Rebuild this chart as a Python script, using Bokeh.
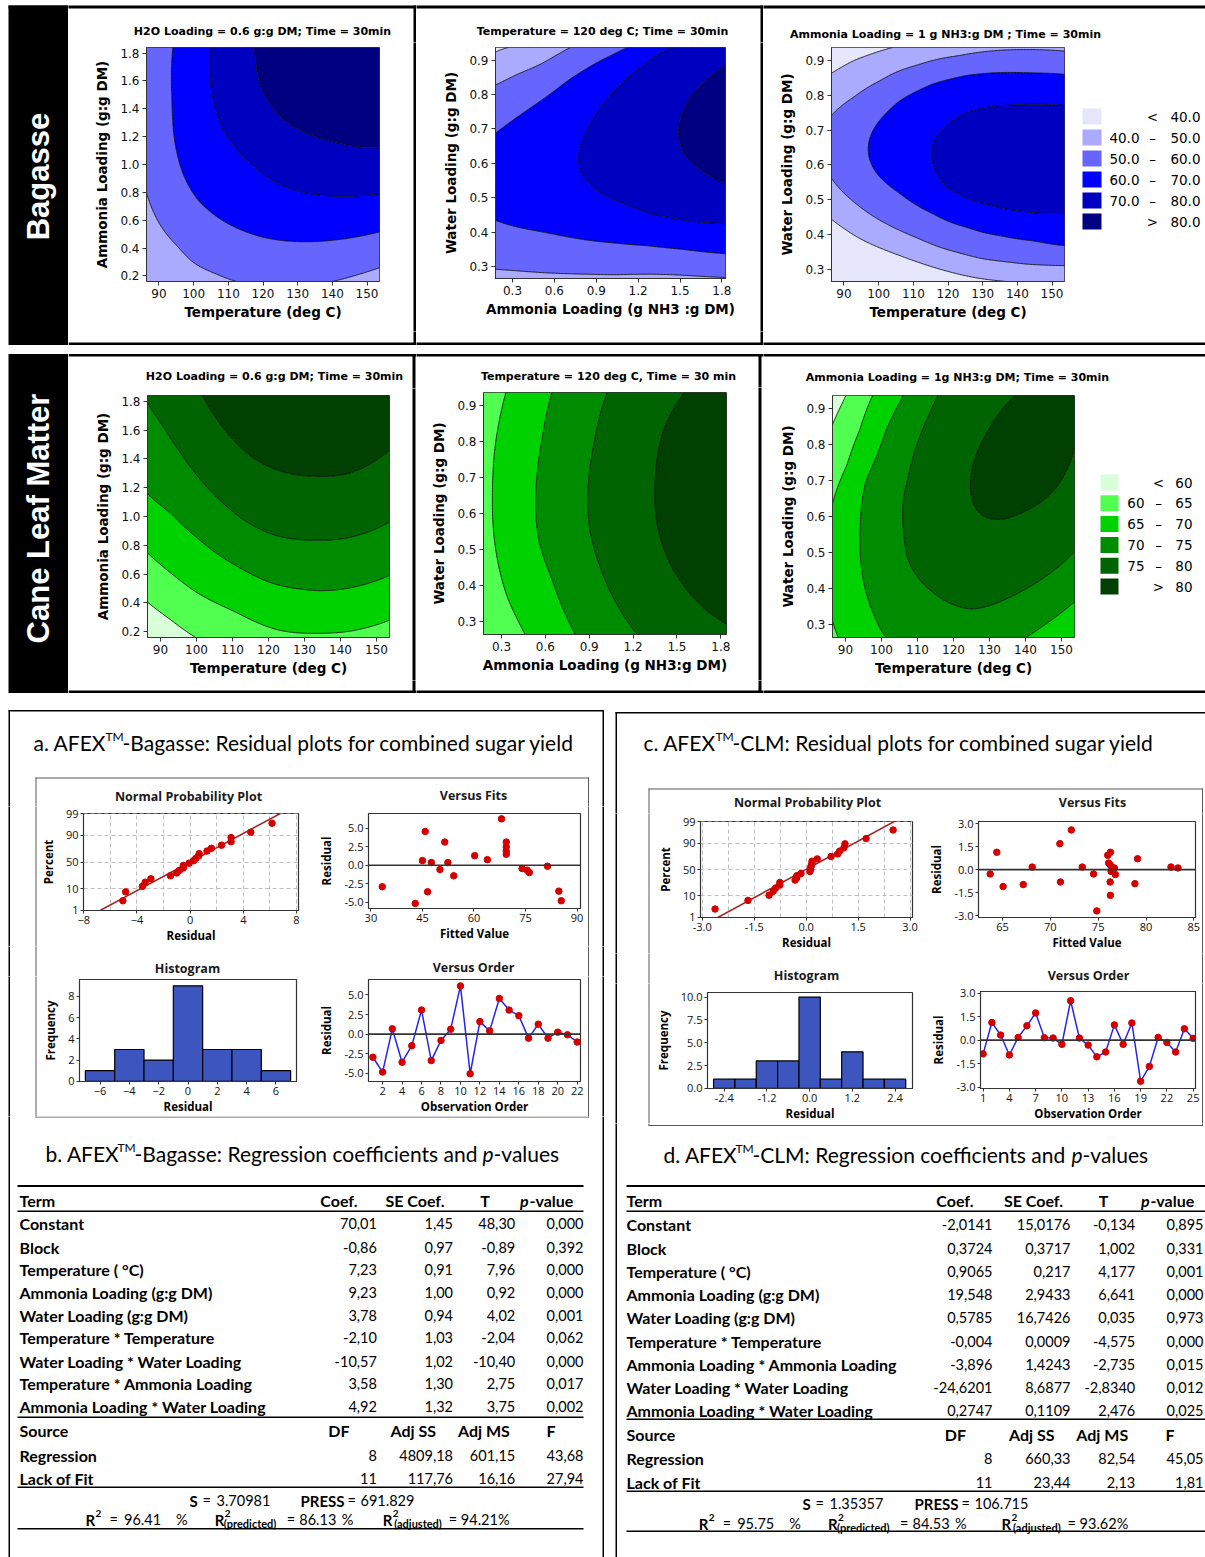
import math
from collections import defaultdict
import numpy as np
from bokeh.plotting import figure
from bokeh.layouts import row, column
from bokeh.models import Range1d, FixedTicker, NumeralTickFormatter, Span
from bokeh.core.properties import value
from bokeh.embed import file_html
from bokeh.resources import INLINE

# ============================ DATA ============================
# ---- response-surface contour plots ----
bag_levels = [40, 50, 60, 70, 80]
bag_colors = ["#E6E6FA", "#AAAAFF", "#6666FF", "#0000FF", "#0000C0", "#000080"]
clm_levels = [60, 65, 70, 75, 80]
clm_colors = ["#D9FFD9", "#50FF50", "#00D200", "#008C00", "#006400", "#004000"]

temp_range = [86.4, 153.6]
nh3_range = [0.16, 1.84]
nh3_range_bag = [0.178, 1.826]
nh3_range_clm = [0.177, 1.839]
water_range = [0.265, 0.937]

temp_ticks = [90, 100, 110, 120, 130, 140, 150]
nh3_ticks = [0.2, 0.4, 0.6, 0.8, 1.0, 1.2, 1.4, 1.6, 1.8]
nh3_ticks2 = [0.3, 0.6, 0.9, 1.2, 1.5, 1.8]
water_ticks = [0.3, 0.4, 0.5, 0.6, 0.7, 0.8, 0.9]

# points read along the contour lines of each panel: (x, y, level)
# (a few corner points carry the band value)
bag_temp_nh3 = [
    (86.6, 0.78, 50), (90.7, 0.553, 50), (95.5, 0.41, 50), (100.3, 0.29, 50), (106.1, 0.219, 50),
    (111.8, 0.164, 50), (140.7, 0.164, 50), (153.75, 0.26, 50),
    (94.0, 1.84, 60), (93.75, 1.46, 60), (94.5, 1.173, 60), (96.9, 0.935, 60), (101.25, 0.744, 60),
    (108.9, 0.589, 60), (119.5, 0.481, 60), (131.1, 0.446, 60), (140.7, 0.458, 60), (153.75, 0.517, 60),
    (104.8, 1.84, 70), (104.9, 1.578, 70), (107.0, 1.34, 70), (111.8, 1.125, 70), (117.6, 0.982, 70),
    (124.3, 0.863, 70), (131.1, 0.803, 70), (140.7, 0.772, 70), (153.75, 0.791, 70),
    (117.6, 1.84, 80), (118.6, 1.626, 80), (121.4, 1.459, 80), (126.25, 1.316, 80), (133.0, 1.22, 80),
    (140.7, 1.161, 80), (148.4, 1.125, 80), (153.75, 1.12, 80),
    (86.4, 0.16, 44),
]
bag_nh3_water = [
    (0.178, 0.92, 40), (0.298, 0.94, 40), (0.178, 0.937, 39.3),
    (0.178, 0.828, 50), (0.321, 0.857, 50), (0.513, 0.891, 50), (0.704, 0.935, 50),
    (0.178, 0.292, 50), (0.560, 0.281, 50), (1.038, 0.276, 50), (1.826, 0.268, 50),
    (0.178, 0.688, 60), (0.321, 0.731, 60), (0.513, 0.785, 60), (0.704, 0.843, 60), (0.895, 0.891, 60),
    (1.134, 0.94, 60),
    (0.178, 0.434, 60), (0.321, 0.416, 60), (0.560, 0.397, 60), (0.799, 0.379, 60), (1.038, 0.368, 60),
    (1.277, 0.36, 60), (1.516, 0.35, 60), (1.826, 0.337, 60),
    (0.775, 0.61, 70), (0.847, 0.707, 70), (0.990, 0.794, 70), (1.157, 0.862, 70), (1.348, 0.92, 70),
    (1.468, 0.94, 70), (0.895, 0.523, 70), (1.086, 0.484, 70), (1.325, 0.45, 70), (1.587, 0.431, 70),
    (1.826, 0.424, 70),
    (1.492, 0.678, 80), (1.540, 0.765, 80), (1.659, 0.833, 80), (1.826, 0.886, 80), (1.563, 0.61, 80),
    (1.683, 0.571, 80), (1.826, 0.542, 80),
]
bag_temp_water = [
    (86.85, 0.866, 40), (92.9, 0.9, 40), (99.55, 0.924, 40), (104.3, 0.938, 40),
    (86.85, 0.44, 40), (94.8, 0.387, 40), (106.2, 0.339, 40), (115.8, 0.306, 40), (127.3, 0.277, 40),
    (136.8, 0.265, 40),
    (86.85, 0.747, 50), (92.9, 0.795, 50), (100.5, 0.842, 50), (111.0, 0.886, 50), (123.4, 0.914, 50),
    (134.9, 0.929, 50), (144.5, 0.931, 50), (153.5, 0.927, 50),
    (86.85, 0.555, 50), (94.8, 0.478, 50), (106.2, 0.411, 50), (117.7, 0.363, 50), (130.1, 0.33, 50),
    (142.5, 0.315, 50), (153.5, 0.311, 50),
    (97.0, 0.651, 60), (99.55, 0.718, 60), (106.2, 0.785, 60), (115.8, 0.833, 60), (125.35, 0.857, 60),
    (134.9, 0.865, 60), (144.5, 0.864, 60), (153.5, 0.86, 60), (99.55, 0.574, 60), (106.2, 0.517, 60),
    (115.8, 0.459, 60), (125.35, 0.421, 60), (134.9, 0.397, 60), (144.5, 0.382, 60), (153.5, 0.368, 60),
    (115.5, 0.622, 70), (119.6, 0.713, 70), (127.3, 0.756, 70), (136.8, 0.771, 70), (146.4, 0.774, 70),
    (153.5, 0.771, 70), (119.6, 0.536, 70), (127.3, 0.497, 70), (136.8, 0.473, 70), (146.4, 0.461, 70),
    (153.5, 0.461, 70),
]
clm_temp_nh3 = [
    (86.8, 0.397, 60), (92.3, 0.293, 60), (99.7, 0.161, 60),
    (86.8, 0.737, 65), (99.7, 0.478, 65), (110.7, 0.339, 65), (122.7, 0.212, 65), (133.7, 0.189, 65),
    (142.9, 0.205, 65), (153.75, 0.281, 65),
    (86.8, 1.148, 70), (92.3, 1.033, 70), (101.5, 0.824, 70), (110.7, 0.663, 70), (119.9, 0.547, 70),
    (129.1, 0.496, 70), (133.7, 0.485, 70), (142.9, 0.506, 70), (153.75, 0.593, 70),
    (86.8, 1.772, 75), (90.5, 1.634, 75), (96.0, 1.426, 75), (103.3, 1.194, 75), (112.5, 0.986, 75),
    (121.7, 0.871, 75), (132.8, 0.836, 75), (142.0, 0.852, 75), (153.75, 0.963, 75),
    (101.5, 1.842, 80), (106.1, 1.657, 80), (113.5, 1.449, 80), (122.7, 1.321, 80), (132.8, 1.28, 80),
    (142.0, 1.298, 80), (153.75, 1.46, 80),
]
clm_nh3_water = [
    (0.330, 0.937, 65), (0.257, 0.789, 65), (0.238, 0.65, 65), (0.257, 0.511, 65), (0.337, 0.372, 65),
    (0.462, 0.265, 65),
    (0.645, 0.937, 70), (0.577, 0.807, 70), (0.536, 0.669, 70), (0.554, 0.53, 70), (0.645, 0.419, 70),
    (0.805, 0.265, 70),
    (1.023, 0.937, 75), (0.943, 0.817, 75), (0.892, 0.669, 75), (0.908, 0.548, 75), (0.988, 0.437, 75),
    (1.228, 0.265, 75),
    (1.549, 0.937, 80), (1.411, 0.835, 80), (1.350, 0.678, 80), (1.377, 0.548, 80), (1.514, 0.419, 80),
    (1.720, 0.326, 80), (1.839, 0.294, 80),
]
clm_temp_water = [
    (86.6, 0.862, 60), (90.0, 0.934, 60),
    (86.6, 0.644, 65), (90.3, 0.741, 65), (94.0, 0.842, 65), (97.4, 0.934, 65),
    (86.6, 0.303, 65), (88.0, 0.265, 65),
    (105.9, 0.934, 70), (101.3, 0.842, 70), (95.8, 0.704, 70), (94.1, 0.565, 70), (94.9, 0.427, 70),
    (97.6, 0.335, 70), (101.3, 0.264, 70), (139.9, 0.264, 70), (146.3, 0.307, 70), (153.5, 0.363, 70),
    (115.5, 0.934, 75), (111.4, 0.842, 75), (107.3, 0.704, 75), (106.1, 0.565, 75), (107.7, 0.473, 75),
    (113.2, 0.4, 75), (119.7, 0.358, 75), (125.2, 0.344, 75), (132.5, 0.363, 75), (141.7, 0.409, 75),
    (153.5, 0.501, 75),
    (136.7, 0.934, 80), (129.8, 0.842, 80), (125.6, 0.75, 80), (124.7, 0.676, 80), (127.0, 0.612, 80),
    (132.5, 0.593, 80), (139.9, 0.616, 80), (148.2, 0.676, 80), (153.5, 0.787, 80),
]

# ---- residual plots: bagasse ----
bag_resid_order = [-2.95, -4.85, 0.68, -3.59, -1.48, 3.08, -3.38, -0.80, 0.63, 6.16, -5.06,
                   1.60, 0.42, 4.56, 3.08, 2.36, -0.51, 1.27, -0.51, 0.25, -0.08, -1.01]
bag_fitted = [33.3, 42.9, 45.0, 45.8, 46.5, 47.6, 50.1, 51.5, 52.4, 54.1, 60.2, 63.9,
              68.0, 69.4, 69.4, 69.4, 69.4, 74.0, 75.5, 76.1, 81.4, 84.7, 85.4]
bag_fitted_resid = [-2.91, -5.16, 0.63, 4.57, -3.59, 0.36, -0.58, 3.14, 0.36, -1.43, 1.30, 0.76,
                    6.28, 3.14, 2.47, 1.88, 1.48, -0.45, -0.67, -0.99, -0.13, -3.50, -4.80]
bag_hist_mid = [-6, -4, -2, 0, 2, 4, 6]
bag_hist_count = [1, 3, 2, 9, 3, 3, 1]
bag_npp_line = [-6.77, 6.78]          # residual at 1 % and 99 %

# ---- residual plots: cane leaf matter ----
clm_resid_order = [-0.88, 1.12, 0.32, -0.95, 0.17, 0.91, 1.73, 0.15, 0.13, -0.27, 2.51, 0.13, -0.32,
                   -1.07, -0.76, 0.97, -0.27, 1.09, -2.63, -1.68, 0.17, -0.15, -0.76, 0.72, 0.11]
clm_fitted = [63.72, 64.41, 65.07, 67.18, 68.11, 71.0, 72.2, 71.06, 73.34, 74.52, 74.86, 76.0, 76.28,
              76.25, 76.35, 76.25, 76.28, 76.7, 76.8, 78.84, 79.12, 82.61, 83.34, 76.1, 76.45]
clm_fitted_resid = [-0.28, 1.13, -1.10, -0.97, 0.17, 1.69, 2.58, -0.80, 0.17, -0.28, -2.68, 0.93, 1.13,
                    0.32, -0.11, -0.80, -1.67, 0.11, -0.32, -0.91, 0.71, 0.17, 0.11, 0.43, 0.15]
clm_hist_mid = [-2.4, -1.8, -1.2, -0.6, 0.0, 0.6, 1.2, 1.8, 2.4]
clm_hist_count = [1, 1, 3, 3, 10, 1, 4, 1, 1]
clm_npp_line = [-2.55, 2.54]

npp_pct_ticks = [1, 10, 50, 90, 99]

# ---- regression tables ----
bag_terms = ["Constant", "Block", "Temperature ( °C)", "Ammonia Loading (g:g DM)", "Water Loading (g:g DM)",
             "Temperature * Temperature", "Water Loading * Water Loading", "Temperature * Ammonia Loading",
             "Ammonia Loading * Water Loading"]
bag_coef = ["70,01", "-0,86", "7,23", "9,23", "3,78", "-2,10", "-10,57", "3,58", "4,92"]
bag_se = ["1,45", "0,97", "0,91", "1,00", "0,94", "1,03", "1,02", "1,30", "1,32"]
bag_tval = ["48,30", "-0,89", "7,96", "0,92", "4,02", "-2,04", "-10,40", "2,75", "3,75"]
bag_pval = ["0,000", "0,392", "0,000", "0,000", "0,001", "0,062", "0,000", "0,017", "0,002"]
bag_df = ["8", "11"]
bag_adjss = ["4809,18", "117,76"]
bag_adjms = ["601,15", "16,16"]
bag_f = ["43,68", "27,94"]
bag_stats = {"S": "3.70981", "PRESS": "691.829", "R2": "96.41", "R2pred": "86.13", "R2adj": "94.21"}

clm_terms = ["Constant", "Block", "Temperature ( °C)", "Ammonia Loading (g:g DM)", "Water Loading (g:g DM)",
             "Temperature * Temperature", "Ammonia Loading * Ammonia Loading", "Water Loading * Water Loading",
             "Ammonia Loading * Water Loading"]
clm_coef = ["-2,0141", "0,3724", "0,9065", "19,548", "0,5785", "-0,004", "-3,896", "-24,6201", "0,2747"]
clm_se = ["15,0176", "0,3717", "0,217", "2,9433", "16,7426", "0,0009", "1,4243", "8,6877", "0,1109"]
clm_tval = ["-0,134", "1,002", "4,177", "6,641", "0,035", "-4,575", "-2,735", "-2,8340", "2,476"]
clm_pval = ["0,895", "0,331", "0,001", "0,000", "0,973", "0,000", "0,015", "0,012", "0,025"]
clm_df = ["8", "11"]
clm_adjss = ["660,33", "23,44"]
clm_adjms = ["82,54", "2,13"]
clm_f = ["45,05", "1,81"]
clm_stats = {"S": "1.35357", "PRESS": "106.715", "R2": "95.75", "R2pred": "84.53", "R2adj": "93.62"}
source_names = ["Regression", "Lack of Fit"]

# ============================ HELPERS ============================
RECTS, TEXTS = [], []


def R(x0, y0, x1, y1, c="black"):
    RECTS.append((x0, y0, x1, y1, c))


def T(x, y, s, size, font="Lato", style="normal", color="black", align="left", angle=0.0):
    TEXTS.append(dict(x=x, y=y, s=s, size=size, font=font, style=style, color=color, align=align, angle=angle))


def no_align(p):
    try:
        p.frame_align = False
    except Exception:
        pass
    return p


def tile(x0, y0, x1, y1):
    p = figure(width=x1 - x0, height=y1 - y0, x_range=Range1d(x0, x1), y_range=Range1d(y1, y0),
               x_axis_type=None, y_axis_type=None, output_backend="svg", toolbar_location=None, min_border=0)
    no_align(p)
    p.outline_line_color = None
    rs = [r for r in RECTS if r[0] < x1 and r[2] > x0 and r[1] < y1 and r[3] > y0]
    if rs:
        p.quad(left=[r[0] for r in rs], right=[r[2] for r in rs], top=[r[1] for r in rs],
               bottom=[r[3] for r in rs], fill_color=[r[4] for r in rs], line_color=None)
    groups = defaultdict(list)
    for t in TEXTS:
        if x0 <= t["x"] < x1 and y0 <= t["y"] < y1:
            groups[(t["font"], t["size"], t["style"], t["color"], t["align"], t["angle"])].append(t)
    for (font, size, style, color, align, angle), ts in groups.items():
        p.text(x=[t["x"] for t in ts], y=[t["y"] for t in ts], text=[t["s"] for t in ts],
               text_font=value(font), text_font_size=value(f"{size}px"), text_font_style=value(style),
               text_color=color, text_align=value(align), text_baseline=value("middle"), angle=angle)
    return p


def make_fig(box, frame, xr, yr):
    x0, y0, x1, y1 = box
    fx0, fy0, fx1, fy1 = frame
    p = figure(width=x1 - x0, height=y1 - y0, x_range=Range1d(*xr), y_range=Range1d(*yr),
               output_backend="svg", toolbar_location=None,
               min_border_left=fx0 - x0, min_border_right=x1 - fx1,
               min_border_top=fy0 - y0, min_border_bottom=y1 - fy1)
    return no_align(p)


def style_axis(ax, ticks, fmt, label, font, tick_size, lab_size, tick_out, mstand, lstand):
    ax.ticker = FixedTicker(ticks=ticks)
    if fmt:
        ax.formatter = NumeralTickFormatter(format=fmt)
    ax.axis_label = label
    ax.axis_label_text_font = font
    ax.axis_label_text_font_style = "bold"
    ax.axis_label_text_font_size = lab_size
    ax.axis_label_text_color = "black"
    ax.major_label_text_font = font
    ax.major_label_text_font_size = tick_size
    ax.major_label_text_color = "#111111"
    ax.major_tick_out = tick_out
    ax.major_tick_in = 0
    ax.minor_tick_line_color = None
    ax.axis_line_color = "#333333"
    ax.major_tick_line_color = "#333333"
    ax.major_label_standoff = mstand
    ax.axis_label_standoff = lstand


def fit_surface(trace, xr, yr, n=161, lam=0.004):
    """quadratic response surface through the traced contour points + thin-plate correction"""
    P = np.asarray(trace, dtype=float)
    xc, xs = 0.5 * (xr[0] + xr[1]), 0.5 * (xr[1] - xr[0])
    yc, ys = 0.5 * (yr[0] + yr[1]), 0.5 * (yr[1] - yr[0])
    u = (P[:, 0] - xc) / xs
    v = (P[:, 1] - yc) / ys
    z = P[:, 2]
    M = np.column_stack([np.ones_like(u), u, v, u * u, v * v, u * v])
    c = np.linalg.lstsq(M, z, rcond=None)[0]
    res = z - M @ c
    N = len(u)
    d = np.hypot(u[:, None] - u[None, :], v[:, None] - v[None, :])
    K = d * d * np.log(np.maximum(d, 1e-12))
    A = np.zeros((N + 3, N + 3))
    A[:N, :N] = K + lam * np.eye(N)
    Pm = np.column_stack([np.ones(N), u, v])
    A[:N, N:] = Pm
    A[N:, :N] = Pm.T
    sol = np.linalg.solve(A, np.concatenate([res, np.zeros(3)]))
    w, a = sol[:N], sol[N:]
    xg = np.linspace(xr[0], xr[1], n)
    yg = np.linspace(yr[0], yr[1], n)
    U, V = np.meshgrid((xg - xc) / xs, (yg - yc) / ys)
    Z = c[0] + c[1] * U + c[2] * V + c[3] * U * U + c[4] * V * V + c[5] * U * V
    D = np.hypot(U[..., None] - u, V[..., None] - v)
    Kg = D * D * np.log(np.maximum(D, 1e-12))
    Z = Z + Kg @ w + a[0] + a[1] * U + a[2] * V
    return xg, yg, Z


def contour_fig(box, frame, xr, yr, xticks, yticks, xfmt, yfmt, xlabel, ylabel, trace, levels, colors):
    p = make_fig(box, frame, xr, yr)
    xg, yg, Z = fit_surface(trace, xr, yr)
    p.contour(x=xg, y=yg, z=Z, levels=[-1e5] + list(levels) + [1e5], fill_color=colors,
              line_color="black", line_width=0.8)
    p.grid.visible = False
    p.outline_line_color = "#333333"
    style_axis(p.xaxis, xticks, xfmt, xlabel, "DejaVu Sans", "12px", "13.5px", 4, 3, 3)
    style_axis(p.yaxis, yticks, yfmt, ylabel, "DejaVu Sans", "12px", "13.5px", 4, 3, 7)
    return p


def norm_ppf(q):
    lo, hi = -10.0, 10.0
    for _ in range(100):
        mid = 0.5 * (lo + hi)
        if 0.5 * (1.0 + math.erf(mid / math.sqrt(2.0))) < q:
            lo = mid
        else:
            hi = mid
    return 0.5 * (lo + hi)


def resid_fig(box, frame, xr, yr, xticks, yticks, xfmt, yfmt, xlabel, ylabel):
    p = make_fig(box, frame, xr, yr)
    p.grid.visible = False
    p.outline_line_color = "#333333"
    p.outline_line_width = 1.2
    style_axis(p.xaxis, xticks, xfmt, xlabel, "Open Sans", "11px", "11.5px", 3, 2, 1)
    style_axis(p.yaxis, yticks, yfmt, ylabel, "Open Sans", "11px", "11.5px", 3, 2, 7)
    return p


PT_RED = "#D40000"


def npp_fig(box, frame, xr, xticks, xgrid, xfmt, resid, line_x):
    zt = [norm_ppf(q / 100.0) for q in npp_pct_ticks]
    p = resid_fig(box, frame, xr, (-2.33, 2.33), xticks, zt, xfmt, None, "Residual", "Percent")
    p.yaxis.major_label_overrides = {z: str(q) for z, q in zip(zt, npp_pct_ticks)}
    p.grid.visible = True
    p.xgrid.ticker = FixedTicker(ticks=xgrid)
    p.ygrid.ticker = FixedTicker(ticks=zt)
    p.grid.grid_line_color = "#BDBDBD"
    p.grid.grid_line_dash = "4 3"
    n = len(resid)
    rs = sorted(resid)
    zs = [norm_ppf((i + 1 - 0.3) / (n + 0.4)) for i in range(n)]
    p.line(x=line_x, y=[norm_ppf(0.01), norm_ppf(0.99)], line_color="#A52222", line_width=1.6)
    p.scatter(x=rs, y=zs, size=6.5, fill_color=PT_RED, line_color=PT_RED)
    return p


def fits_fig(box, frame, xr, yr, xticks, yticks, fits, res):
    p = resid_fig(box, frame, xr, yr, xticks, yticks, None, "0.0", "Fitted Value", "Residual")
    p.add_layout(Span(location=0, dimension="width", line_color="#333333", line_width=1.6))
    p.scatter(x=fits, y=res, size=6.5, fill_color=PT_RED, line_color=PT_RED)
    return p


def order_fig(box, frame, xr, yr, xticks, yticks, res):
    p = resid_fig(box, frame, xr, yr, xticks, yticks, None, "0.0", "Observation Order", "Residual")
    p.add_layout(Span(location=0, dimension="width", line_color="#333333", line_width=1.6))
    obs = list(range(1, len(res) + 1))
    p.line(x=obs, y=res, line_color="#2424F0", line_width=1.5)
    p.scatter(x=obs, y=res, size=6.5, fill_color=PT_RED, line_color=PT_RED)
    return p


def hist_fig(box, frame, xr, yr, xticks, yticks, xfmt, yfmt, mids, counts, width):
    p = resid_fig(box, frame, xr, yr, xticks, yticks, xfmt, yfmt, "Residual", "Frequency")
    p.quad(left=[m - width / 2 for m in mids], right=[m + width / 2 for m in mids], bottom=0, top=counts,
           fill_color="#3D55BF", line_color="black", line_width=1.2)
    return p


# ============================ STATIC DRAWING ============================
# ---- top: contour section frames ----
R(8, 5, 1205, 8)                      # top rule
R(8, 5, 68, 344.5)                    # black side block (Bagasse)
R(68, 342, 1205, 344.5)               # bottom rule of row 1
R(413, 5, 416, 344.5)
R(760, 5, 763, 344.5)
R(8, 353.5, 68, 692.5)                # black side block (CLM)
R(68, 353.5, 1205, 356)
R(68, 690, 1205, 692.5)
R(412, 353.5, 415, 692.5)
R(758, 353.5, 761, 692.5)
T(38, 176, "Bagasse", 31, font="Liberation Sans", style="bold", color="white", align="center", angle=math.pi / 2)
T(38, 518, "Cane Leaf Matter", 31, font="Liberation Sans", style="bold", color="white", align="center",
  angle=math.pi / 2)

TF = "DejaVu Sans"
T(262, 31, "H2O Loading = 0.6 g:g DM; Time = 30min", 11, font=TF, style="bold", align="center")
T(602, 31, "Temperature = 120 deg C; Time = 30min", 11, font=TF, style="bold", align="center")
T(945, 34, "Ammonia Loading = 1 g NH3:g DM ; Time = 30min", 11, font=TF, style="bold", align="center")
T(274, 376, "H2O Loading = 0.6 g:g DM; Time = 30min", 11, font=TF, style="bold", align="center")
T(608, 376, "Temperature = 120 deg C, Time = 30 min", 11, font=TF, style="bold", align="center")
T(957, 377, "Ammonia Loading = 1g NH3:g DM; Time = 30min", 11, font=TF, style="bold", align="center")


def legend(x_sw, w_sw, y0, dy, h_sw, colors, levels, fmt, x_lo, x_sym, x_hi):
    n = len(colors)
    for i in range(n):
        yc = y0 + i * dy
        R(x_sw, yc - h_sw / 2, x_sw + w_sw, yc + h_sw / 2, colors[i])
        if i == 0:
            sym, lo, hi = "<", "", fmt.format(levels[0])
        elif i == n - 1:
            sym, lo, hi = ">", "", fmt.format(levels[-1])
        else:
            sym, lo, hi = "–", fmt.format(levels[i - 1]), fmt.format(levels[i])
        if lo:
            T(x_lo, yc, lo, 13.5, font=TF, align="right")
        T(x_sym, yc, sym, 13.5, font=TF, align="center")
        T(x_hi, yc, hi, 13.5, font=TF, align="right")


legend(1082, 19, 116, 21, 16, bag_colors, bag_levels, "{:.1f}", 1139, 1152, 1200)
legend(1100, 18, 482, 20.8, 16, clm_colors, clm_levels, "{:d}", 1144, 1158, 1192)

# ---- bottom boxes ----
R(8, 709.5, 603.5, 711)
R(8, 709.5, 9.5, 1557)
R(602, 709.5, 603.5, 1557)
R(615, 711.5, 1205, 713)
R(615, 711.5, 616.5, 1557)
BOXC = "#5a5a5a"
for (bx0, by0, bx1, by1) in [(35, 777, 588.5, 1117), (648, 788, 1202.5, 1125.5)]:
    R(bx0, by0, bx1, by0 + 1, BOXC)
    R(bx0, by1 - 1, bx1, by1, BOXC)
    R(bx0, by0, bx0 + 1, by1, BOXC)
    R(bx1 - 1, by0, bx1, by1, BOXC)

SF = 21
T(33, 742, "a. AFEX", SF)
T(105, 736, "TM", 12)
T(122, 742, "-Bagasse: Residual plots for combined sugar yield", SF)
T(643, 742, "c. AFEX", SF)
T(715, 736, "TM", 12)
T(732, 742, "-CLM: Residual plots for combined sugar yield", SF)
T(45, 1153, "b. AFEX", SF)
T(117, 1147, "TM", 12)
T(134, 1153, "-Bagasse: Regression coefficients and", SF)
T(493, 1153, "p", SF, style="italic", align="right")
T(493, 1153, "-values", SF)
T(663, 1154, "d. AFEX", SF)
T(735, 1148, "TM", 12)
T(752, 1154, "-CLM: Regression coefficients and", SF)
T(1082, 1154, "p", SF, style="italic", align="right")
T(1082, 1154, "-values", SF)

RF = "Open Sans"
T(188, 796, "Normal Probability Plot", 12.5, font=RF, style="bold", align="center", color="#1a1a1a")
T(473, 795, "Versus Fits", 12.5, font=RF, style="bold", align="center", color="#1a1a1a")
T(187, 968, "Histogram", 12.5, font=RF, style="bold", align="center", color="#1a1a1a")
T(473, 967, "Versus Order", 12.5, font=RF, style="bold", align="center", color="#1a1a1a")
T(807, 802, "Normal Probability Plot", 12.5, font=RF, style="bold", align="center", color="#1a1a1a")
T(1092, 802, "Versus Fits", 12.5, font=RF, style="bold", align="center", color="#1a1a1a")
T(806, 975, "Histogram", 12.5, font=RF, style="bold", align="center", color="#1a1a1a")
T(1088, 975, "Versus Order", 12.5, font=RF, style="bold", align="center", color="#1a1a1a")


def table(L, terms, coef, se, tv, pv, df, ss, ms, fv, st):
    FB, FS = 16, 14.5
    x0, x1 = L["line_x"]
    for (ya, th) in L["lines"]:
        R(x0, ya, x1, ya + th)
    hy = L["hdr_y"]
    T(L["term_x"], hy, "Term", FB, style="bold")
    T(L["hdr_coef"], hy, "Coef.", FB, style="bold", align="right")
    T(L["hdr_se"], hy, "SE Coef.", FB, style="bold", align="right")
    T(L["hdr_t"], hy, "T", FB, style="bold", align="center")
    T(L["hdr_p"], hy, "p", FB, style="bold italic")
    T(L["hdr_p"] + 9.5, hy, "-value", FB, style="bold")
    cx = L["cols"]
    for i, y in enumerate(L["rows_y"]):
        T(L["term_x"], y, terms[i], FB, style="bold")
        for xr_, val in zip(cx, (coef[i], se[i], tv[i], pv[i])):
            T(xr_, y, val, FS, align="right")
    sy = L["src_y"]
    T(L["term_x"], sy, "Source", FB, style="bold")
    T(L["src_df"], sy, "DF", FB, style="bold", align="right")
    T(L["src_ss"], sy, "Adj SS", FB, style="bold")
    T(L["src_ms"], sy, "Adj MS", FB, style="bold")
    T(L["src_f"], sy, "F", FB, style="bold")
    for j, y in enumerate(L["anova_y"]):
        T(L["term_x"], y, source_names[j], FB, style="bold")
        for xr_, val in zip(cx, (df[j], ss[j], ms[j], fv[j])):
            T(xr_, y, val, FS, align="right")
    y = L["s_y"]
    sx, px = L["s_x"], L["press_x"]
    T(sx, y, "S", 15, style="bold")
    T(sx + 13, y, "=", FS)
    T(sx + 27, y, st["S"], FS)
    T(px, y, "PRESS", 15, style="bold")
    T(px + 47, y, "=", FS)
    T(px + 60, y, st["PRESS"], FS)
    y = L["r_y"]
    a, b, c = L["r_x"]
    T(a, y, "R", 15, style="bold")
    T(a + 10, y - 6, "2", 10, style="bold")
    T(a + 24, y, "=", FS)
    T(a + 38.5, y, st["R2"], FS)
    T(a + 90.5, y, "%", FS)
    T(b, y, "R", 15, style="bold")
    T(b + 10, y - 6, "2", 10, style="bold")
    T(b + 9, y + 4, "(predicted)", 11, style="bold")
    T(b + 72, y, "=", FS)
    T(b + 84.5, y, st["R2pred"], FS)
    T(b + 127, y, "%", FS)
    T(c, y, "R", 15, style="bold")
    T(c + 10, y - 6, "2", 10, style="bold")
    T(c + 11.5, y + 4, "(adjusted)", 11, style="bold")
    T(c + 66, y, "= " + st["R2adj"] + "%", FS)


table(dict(line_x=(17, 583),
           lines=[(1184.5, 2), (1210, 1.5), (1416, 1.5), (1486, 1.5), (1527.5, 1.5)],
           hdr_y=1199.5, term_x=19, hdr_coef=357, hdr_se=444, hdr_t=484.6, hdr_p=519.5,
           rows_y=[1223.3, 1246.7, 1269.3, 1292, 1315, 1337.3, 1360.7, 1382.7, 1405.7],
           cols=(376.4, 452.5, 514.7, 583),
           src_y=1430, src_df=349, src_ss=390, src_ms=457.5, src_f=546,
           anova_y=[1455, 1477.7], s_y=1500, s_x=189, press_x=300,
           r_y=1519.3, r_x=(85, 214.3, 382.2)),
      bag_terms, bag_coef, bag_se, bag_tval, bag_pval, bag_df, bag_adjss, bag_adjms, bag_f, bag_stats)
table(dict(line_x=(626, 1205),
           lines=[(1184.5, 2), (1210, 1.5), (1418, 1.5), (1490, 1.5), (1530, 1.5)],
           hdr_y=1200, term_x=626, hdr_coef=973, hdr_se=1062.5, hdr_t=1103, hdr_p=1140.4,
           rows_y=[1224.3, 1247.7, 1270.7, 1294.3, 1317.3, 1340.7, 1364, 1387.3, 1410.3],
           cols=(992, 1070, 1134.7, 1203),
           src_y=1434, src_df=965.5, src_ss=1008.5, src_ms=1075.8, src_f=1165,
           anova_y=[1458.3, 1482.3], s_y=1503.3, s_x=802, press_x=914,
           r_y=1523.3, r_x=(698.2, 827.5, 1001)),
      clm_terms, clm_coef, clm_se, clm_tval, clm_pval, clm_df, clm_adjss, clm_adjms, clm_f, clm_stats)

# ============================ PLOTS ============================
P1 = contour_fig((80, 42, 406, 331), (146, 47, 379, 281), temp_range, nh3_range, temp_ticks, nh3_ticks,
                 None, "0.0", "Temperature (deg C)", "Ammonia Loading (g:g DM)", bag_temp_nh3, bag_levels, bag_colors)
P2 = contour_fig((440, 42, 752, 331), (495, 47, 725, 278), nh3_range_bag, water_range, nh3_ticks2, water_ticks,
                 "0.0", "0.0", "Ammonia Loading (g NH3 :g DM)", "Water Loading (g:g DM)", bag_nh3_water,
                 bag_levels, bag_colors)
P3 = contour_fig((772, 42, 1075, 331), (831, 47, 1064, 281), temp_range, water_range, temp_ticks, water_ticks,
                 None, "0.0", "Temperature (deg C)", "Water Loading (g:g DM)", bag_temp_water, bag_levels, bag_colors)
Q1 = contour_fig((80, 388, 406, 680), (147, 395, 389, 637), temp_range, nh3_range, temp_ticks, nh3_ticks,
                 None, "0.0", "Temperature (deg C)", "Ammonia Loading (g:g DM)", clm_temp_nh3, clm_levels, clm_colors)
Q2 = contour_fig((428, 387, 752, 680), (483, 392, 726, 634), nh3_range_clm, water_range, nh3_ticks2, water_ticks,
                 "0.0", "0.0", "Ammonia Loading (g NH3:g DM)", "Water Loading (g:g DM)", clm_nh3_water,
                 clm_levels, clm_colors)
Q3 = contour_fig((772, 388, 1090, 680), (832, 395, 1074, 637), temp_range, water_range, temp_ticks, water_ticks,
                 None, "0.0", "Temperature (deg C)", "Water Loading (g:g DM)", clm_temp_water, clm_levels, clm_colors)

NPP_L = npp_fig((37, 806, 305, 946), (78, 813, 298, 910), (-8.02, 8.15), [-8, -4, 0, 4, 8],
                [-8, -6, -4, -2, 0, 2, 4, 6, 8], None, bag_resid_order, bag_npp_line)
VF_L = fits_fig((316, 806, 587, 946), (365, 813, 580, 908), (29.3, 91.0), (-5.85, 7.0),
                [30, 45, 60, 75, 90], [-5, -2.5, 0, 2.5, 5], bag_fitted, bag_fitted_resid)
HI_L = hist_fig((37, 976, 305, 1116), (79, 979, 296, 1081), (-7.4, 7.4), (-0.02, 9.6),
                [-6, -4, -2, 0, 2, 4, 6], [0, 2, 4, 6, 8], None, None, bag_hist_mid, bag_hist_count, 2.0)
VO_L = order_fig((316, 976, 587, 1116), (365, 979, 580, 1082), (0.55, 22.34), (-6.05, 6.98),
                 list(range(2, 23, 2)), [-5, -2.5, 0, 2.5, 5], bag_resid_order)

NPP_R = npp_fig((652, 813, 920, 953), (700, 821, 912, 917), (-3.05, 3.07), [-3, -1.5, 0, 1.5, 3],
                [-3, -2.25, -1.5, -0.75, 0, 0.75, 1.5, 2.25, 3], "0.0", clm_resid_order, clm_npp_line)
VF_R = fits_fig((925, 813, 1201, 953), (978, 821, 1195, 917), (62.5, 85.17), (-3.11, 3.13),
                [65, 70, 75, 80, 85], [-3, -1.5, 0, 1.5, 3], clm_fitted, clm_fitted_resid)
HI_R = hist_fig((652, 983, 920, 1123), (700, 992, 912, 1089), (-2.87, 2.89), (-0.02, 10.5),
                [-2.4, -1.2, 0, 1.2, 2.4], [0, 2.5, 5, 7.5, 10], "0.0", "0.0", clm_hist_mid, clm_hist_count, 0.6)
VO_R = order_fig((925, 983, 1201, 1123), (980, 991, 1195, 1089), (0.7, 25.27), (-3.09, 3.1),
                 list(range(1, 26, 3)), [-3, -1.5, 0, 1.5, 3], clm_resid_order)

# ============================ LAYOUT ============================
bandA = row(
    tile(0, 0, 68, 349),
    column(tile(68, 0, 416, 42), row(tile(68, 42, 80, 331), P1, tile(406, 42, 416, 331)), tile(68, 331, 416, 349)),
    column(tile(416, 0, 763, 42), row(tile(416, 42, 440, 331), P2, tile(752, 42, 763, 331)), tile(416, 331, 763, 349)),
    column(tile(763, 0, 1205, 42), row(tile(763, 42, 772, 331), P3, tile(1075, 42, 1205, 331)),
           tile(763, 331, 1205, 349)),
)
bandB = row(
    tile(0, 349, 68, 695),
    column(tile(68, 349, 416, 388), row(tile(68, 388, 80, 680), Q1, tile(406, 388, 416, 680)),
           tile(68, 680, 416, 695)),
    column(tile(416, 349, 763, 387), row(tile(416, 387, 428, 680), Q2, tile(752, 387, 763, 680)),
           tile(416, 680, 763, 695)),
    column(tile(763, 349, 1205, 388), row(tile(763, 388, 772, 680), Q3, tile(1090, 388, 1205, 680)),
           tile(763, 680, 1205, 695)),
)
left = column(
    tile(0, 695, 609, 806),
    row(tile(0, 806, 37, 946), NPP_L, tile(305, 806, 316, 946), VF_L, tile(587, 806, 609, 946)),
    tile(0, 946, 609, 976),
    row(tile(0, 976, 37, 1116), HI_L, tile(305, 976, 316, 1116), VO_L, tile(587, 976, 609, 1116)),
    tile(0, 1116, 609, 1557),
)
right = column(
    tile(609, 695, 1205, 813),
    row(tile(609, 813, 652, 953), NPP_R, tile(920, 813, 925, 953), VF_R, tile(1201, 813, 1205, 953)),
    tile(609, 953, 1205, 983),
    row(tile(609, 983, 652, 1123), HI_R, tile(920, 983, 925, 1123), VO_R, tile(1201, 983, 1205, 1123)),
    tile(609, 1123, 1205, 1557),
)
page = column(bandA, bandB, row(left, right))

with open("out.html", "w") as f:
    f.write(file_html(page, INLINE))
